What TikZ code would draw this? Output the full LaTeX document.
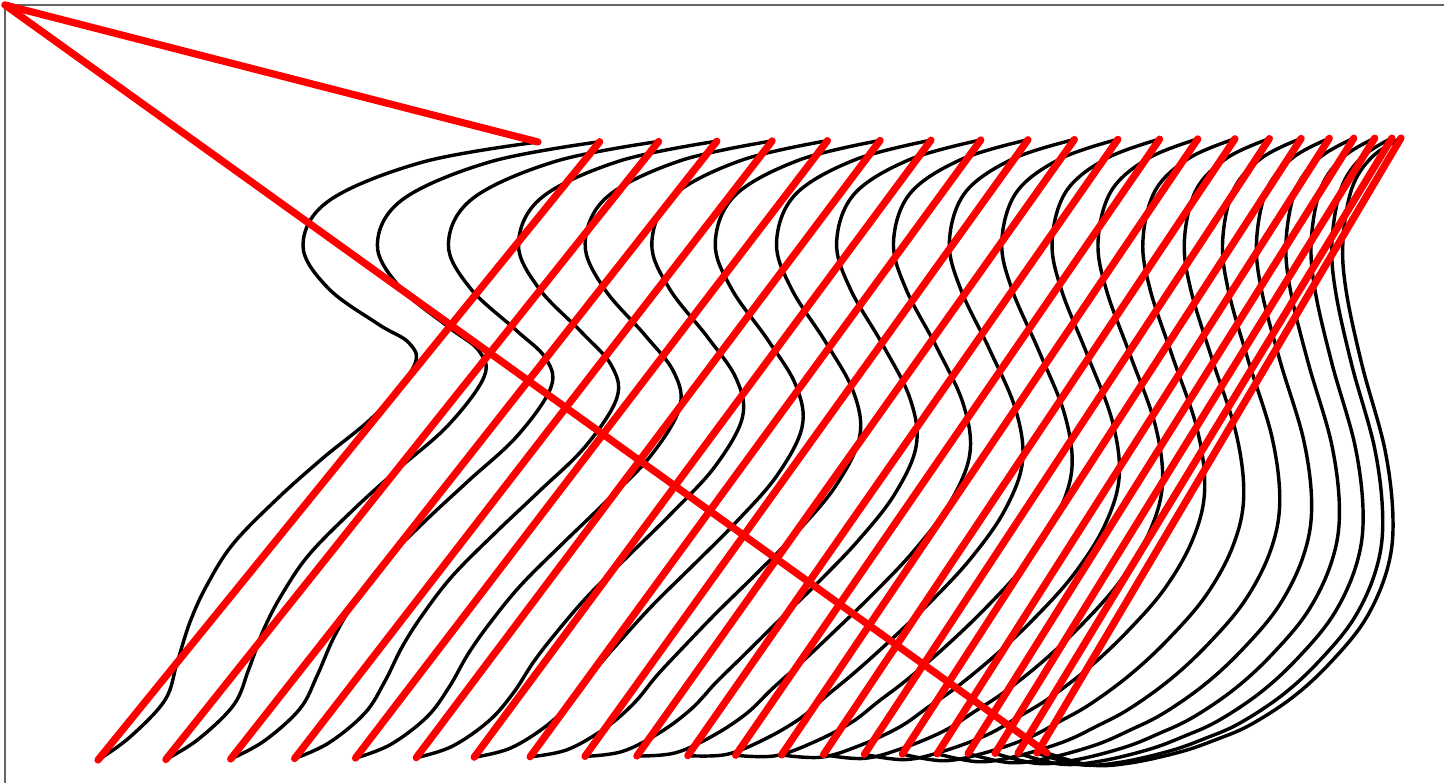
\documentclass[tikz,border=0pt]{standalone}
\usetikzlibrary{calc}
\definecolor{plotred}{HTML}{FF0000}
\definecolor{framegray}{HTML}{666666}

\begin{document}
\begin{tikzpicture}[x=0.02cm, y=-0.02cm,
    snapline/.style={black, line width=1.95pt, line join=round, line cap=round},
    wrapline/.style={plotred, line width=4.1pt, line cap=round}]
  \useasboundingbox (0,0) rectangle (1444,783);
  \draw[framegray, line width=0.85pt] (1444,5) -- (5,5) -- (5,783);
  \coordinate (o) at (5,5);
  % first (a) and last (b) snapshot of the line
  \foreach \k/\xa/\ya/\xb/\yb in {0/538/142/1401/138, 1/423/162/1372/157,
      2/330/200/1352/188, 3/303/245/1343/240, 4/328/288/1346/290,
      5/378/324/1362/365, 6/409/343/1385/450, 7/414/366/1393/520,
      8/376/414/1387/570, 9/323/458/1365/620, 10/277/499/1330/663,
      11/233/544/1293/697, 12/207/585/1250/725, 13/190/622/1215/740,
      14/177/663/1180/752, 15/165/700/1130/763, 16/130/737/1090/765,
      17/98/760/1047/753}{
    \coordinate (a\k) at (\xa,\ya);
    \coordinate (b\k) at (\xb,\yb);
  }
  % snapshots in between
  \foreach \w [count=\i from 0] in {0, 0.0715, 0.1398, 0.2072, 0.2713, 0.3354,
      0.3964, 0.4553, 0.5131, 0.5678, 0.6215, 0.6719, 0.7203, 0.7645, 0.8076,
      0.8475, 0.8843, 0.9169, 0.9453, 0.9695, 0.9895, 1}{
    \foreach \k in {0,...,17}
      \coordinate (p\k) at ($(a\k)!\w!(b\k)$);
    \coordinate (t\i) at (p0);
    \coordinate (q\i) at (p17);
    \draw[snapline] plot[smooth, tension=0.6] coordinates {(p0) (p1) (p2)
      (p3) (p4) (p5) (p6) (p7) (p8) (p9) (p10) (p11) (p12) (p13) (p14)
      (p15) (p16) (p17)};
  }
  % jumps back to the top
  \draw[wrapline] (o) -- (t0);
  \foreach \i in {0,...,20}{
    \pgfmathtruncatemacro{\j}{\i+1}
    \draw[wrapline] (q\i) -- (t\j);
  }
  \draw[wrapline] (q21) -- (o);
\end{tikzpicture}
\end{document}
